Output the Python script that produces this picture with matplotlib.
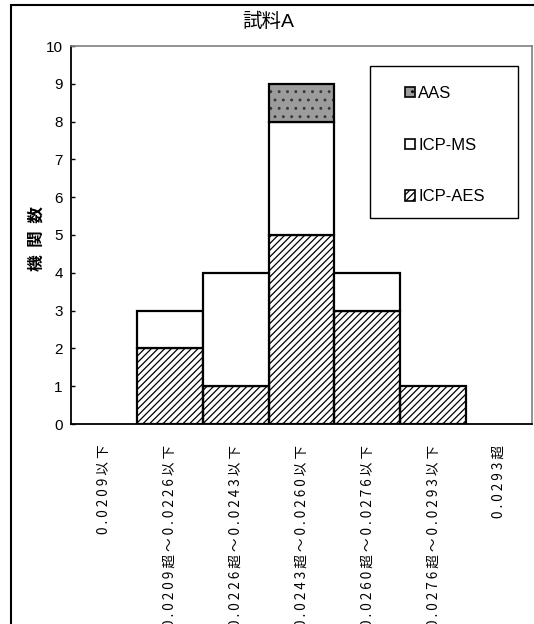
import matplotlib.pyplot as plt
from matplotlib.patches import Patch, Rectangle
import numpy as np

plt.rcParams["font.family"] = ["Liberation Sans", "Noto Sans CJK JP", "DejaVu Sans"]
plt.rcParams["hatch.linewidth"] = 0.9

JP = ["Noto Sans CJK JP", "DejaVu Sans"]

# 濃度区分ごとの機関数（試料A）
categories = [
    "0 . 0 2 0 9 以 下",
    "0 . 0 2 0 9 超 ～ 0 . 0 2 2 6 以 下",
    "0 . 0 2 2 6 超 ～ 0 . 0 2 4 3 以 下",
    "0 . 0 2 4 3 超 ～ 0 . 0 2 6 0 以 下",
    "0 . 0 2 6 0 超 ～ 0 . 0 2 7 6 以 下",
    "0 . 0 2 7 6 超 ～ 0 . 0 2 9 3 以 下",
    "0 . 0 2 9 3 超",
]
icp_aes = [0, 2, 1, 5, 3, 1, 0]
icp_ms = [0, 1, 3, 3, 1, 0, 0]
aas = [0, 0, 0, 1, 0, 0, 0]

W, H = 534, 624
fig = plt.figure(figsize=(W / 100, H / 100), dpi=100)
ax = fig.add_axes([71 / W, 1 - 424 / H, (532 - 71) / W, (424 - 46) / H])

x = np.arange(len(categories))
aes = np.array(icp_aes)
ms = np.array(icp_ms)
aa = np.array(aas)

AAS_FACE = "#9c9c9c"
AAS_DOT = "#383838"


def stack(vals, bottom, **kw):
    m = vals > 0
    return ax.bar(x[m], vals[m], bottom=bottom[m], width=1.0, **kw)


zero = np.zeros(len(x))
stack(aes, zero, color="white", edgecolor="black", hatch="/////", linewidth=0)
stack(aes, zero, fill=False, edgecolor="black", linewidth=1.6)
stack(ms, aes, color="white", edgecolor="black", linewidth=1.6)
stack(aa, aes + ms, color=AAS_FACE, edgecolor=AAS_DOT, hatch="..", linewidth=0)
stack(aa, aes + ms, fill=False, edgecolor="black", linewidth=1.6)

ax.set_xlim(-0.5, len(categories) - 0.5)
ax.set_ylim(0, 10)
ax.set_yticks(range(0, 11))
ax.tick_params(axis="y", direction="in", length=3, width=1, labelsize=11, pad=6)
ax.set_xticks(x)
ax.set_xticklabels(categories, rotation=90, fontsize=9.8, family=JP, va="top")
ax.tick_params(axis="x", length=0, pad=15)

for side in ("left", "bottom"):
    ax.spines[side].set_color("black")
    ax.spines[side].set_linewidth(1.3)
for side in ("top", "right"):
    ax.spines[side].set_color("#808080")
    ax.spines[side].set_linewidth(1.2)

ax.set_ylabel("機  関  数", fontsize=12, fontweight="bold", family=JP)
ax.yaxis.set_label_coords((46 - 71) / 461, 0.49)

fig.text(268 / W, 1 - 22 / H, "試料A", ha="center", va="center", fontsize=14,
         family=["Liberation Sans", "Noto Sans CJK JP"])

# 凡例（枠は別に描く）
px = lambda X, Y: ((X - 71) / 461, (424 - Y) / 378)
x0, y0 = px(370, 218)
x1, y1 = px(518, 66)
ax.add_patch(Rectangle((x0, y0), x1 - x0, y1 - y0, transform=ax.transAxes,
                       facecolor="white", edgecolor="black", linewidth=1.0, zorder=4))
handles = [
    Patch(facecolor=AAS_FACE, edgecolor="black", hatch="..", linewidth=1.2, label="AAS"),
    Patch(facecolor="white", edgecolor="black", linewidth=1.2, label="ICP-MS"),
    Patch(facecolor="white", edgecolor="black", hatch="/////", linewidth=1.2, label="ICP-AES"),
]
leg = ax.legend(handles=handles, loc="upper left", bbox_to_anchor=px(405, 86),
                fontsize=12, labelspacing=2.2, handlelength=0.6, handleheight=0.6,
                handletextpad=0.2, borderpad=0, borderaxespad=0, frameon=False)
leg.set_zorder(5)

# 外枠
fig.patches.append(Rectangle((11 / W, -0.1), 1.2, 1.1 - 5 / H, transform=fig.transFigure,
                             fill=False, edgecolor="black", linewidth=1.5, zorder=0))

fig.savefig("out.png", dpi=100)
